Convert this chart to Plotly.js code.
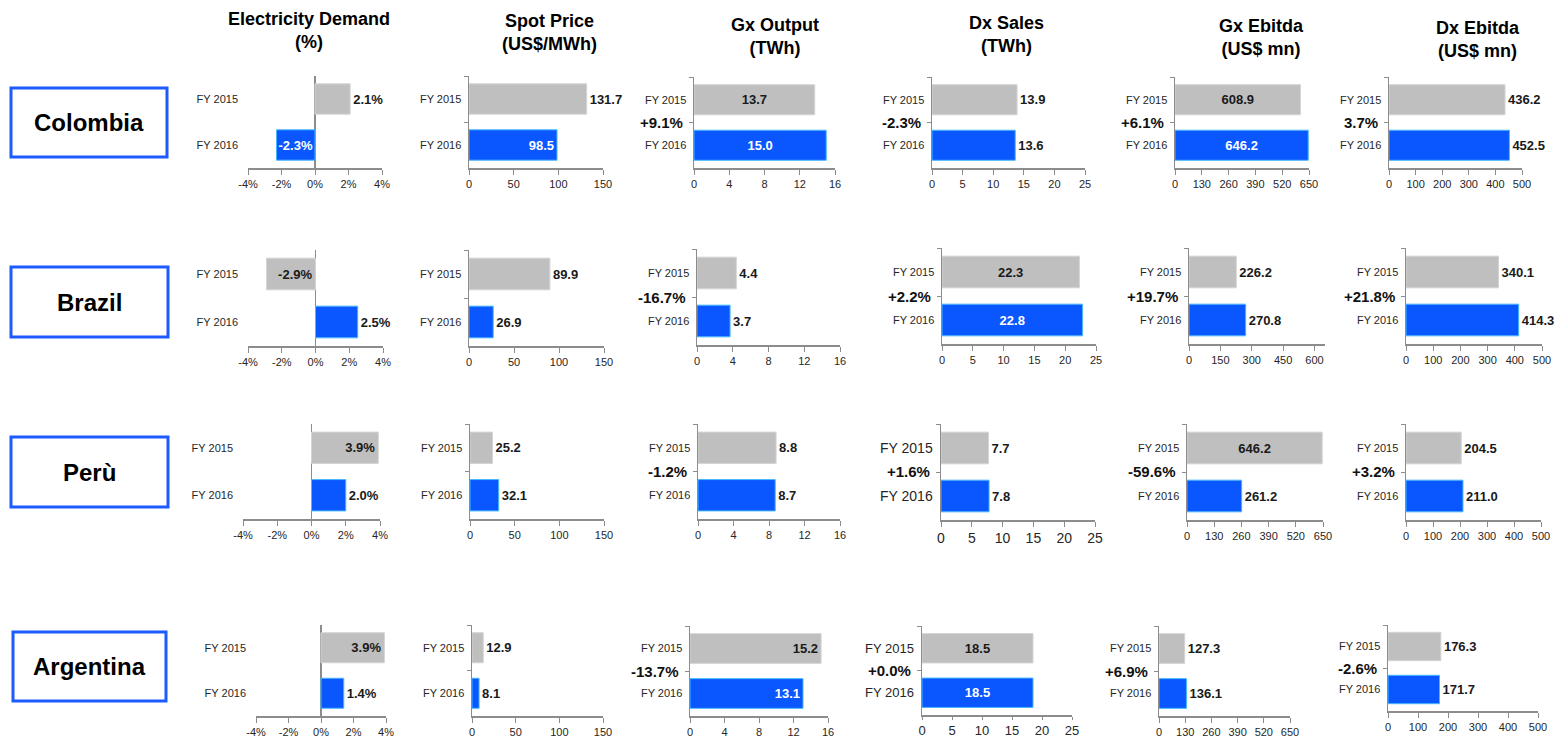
<!DOCTYPE html>
<html><head><meta charset="utf-8">
<script src="https://cdn.plot.ly/plotly-3.0.1.min.js"></script>
<style>html,body{margin:0;padding:0;background:#fff;}#chart{width:1560px;height:739px;}</style>
</head><body><div id="chart"></div>
<script>
// ---------- data ----------
const countries = ['Colombia', 'Brazil', 'Perù', 'Argentina'];
const metricTitles = ['Electricity Demand<br>(%)', 'Spot Price<br>(US$/MWh)', 'Gx Output<br>(TWh)', 'Dx Sales<br>(TWh)', 'Gx Ebitda<br>(US$ mn)', 'Dx Ebitda<br>(US$ mn)'];
const years = ['FY 2015', 'FY 2016'];

const demand2015 = [2.1, -2.9, 3.9, 3.9];
const demand2016 = [-2.3, 2.5, 2.0, 1.4];
const spot2015 = [131.7, 89.9, 25.2, 12.9];
const spot2016 = [98.5, 26.9, 32.1, 8.1];
const gxOutput2015 = [13.7, 4.4, 8.8, 15.2];
const gxOutput2016 = [15.0, 3.7, 8.7, 13.1];
const dxSales2015 = [13.9, 22.3, 7.7, 18.5];
const dxSales2016 = [13.6, 22.8, 7.8, 18.5];
const gxEbitda2015 = [608.9, 226.2, 646.2, 127.3];
const gxEbitda2016 = [646.2, 270.8, 261.2, 136.1];
const dxEbitda2015 = [436.2, 340.1, 204.5, 176.3];
const dxEbitda2016 = [452.5, 414.3, 211.0, 171.7];

const gxOutputChange = ['+9.1%', '-16.7%', '-1.2%', '-13.7%'];
const dxSalesChange = ['-2.3%', '+2.2%', '+1.6%', '+0.0%'];
const gxEbitdaChange = ['+6.1%', '+19.7%', '-59.6%', '+6.9%'];
const dxEbitdaChange = ['3.7%', '+21.8%', '+3.2%', '-2.6%'];

const demandTicks = [-4, -2, 0, 2, 4];
const demandTickLabels = ['-4%', '-2%', '0%', '2%', '4%'];
const spotTicks = [0, 50, 100, 150];
const gxOutputTicks = [0, 4, 8, 12, 16];
const dxSalesTicks = [0, 5, 10, 15, 20, 25];
const gxEbitdaTicks = [0, 130, 260, 390, 520, 650];
const gxEbitdaTicksBrazil = [0, 150, 300, 450, 600];
const dxEbitdaTicks = [0, 100, 200, 300, 400, 500];

// ---------- metric options built from the arrays ----------
const metrics = [
  {v15: demand2015, v16: demand2016, change: null, range: [-4, 4], ticks: () => demandTicks, labels: () => demandTickLabels, fmt: v => v.toFixed(1) + '%'},
  {v15: spot2015, v16: spot2016, change: null, range: [0, 150], ticks: () => spotTicks, fmt: v => v.toFixed(1)},
  {v15: gxOutput2015, v16: gxOutput2016, change: gxOutputChange, range: [0, 16], ticks: () => gxOutputTicks, fmt: v => v.toFixed(1)},
  {v15: dxSales2015, v16: dxSales2016, change: dxSalesChange, range: [0, 25], ticks: () => dxSalesTicks, fmt: v => v.toFixed(1)},
  {v15: gxEbitda2015, v16: gxEbitda2016, change: gxEbitdaChange, range: [0, 650], ticks: r => (r === 1 ? gxEbitdaTicksBrazil : gxEbitdaTicks), fmt: v => v.toFixed(1)},
  {v15: dxEbitda2015, v16: dxEbitda2016, change: dxEbitdaChange, range: [0, 500], ticks: () => dxEbitdaTicks, fmt: v => v.toFixed(1)}
];

// ---------- layout geometry (pixels) ----------
const W = 1560, H = 739;
const cells = [
  [[248,382,76,168],[469,603,76,168],[694,835,77,168],[932,1085,77,168],[1175,1309,77,168],[1389,1522,77,168]],
  [[248,383,250,346],[469,604,250,346],[697,840,249,345],[942,1096,248,344],[1189,1325,248,344],[1406,1542,248,344]],
  [[243,380,424,519],[470,604,424,519],[698,840,424,519],[941,1095,424,520],[1187,1323,424,520],[1406,1541,424,520]],
  [[256,386,625,716],[472,603,625,716],[690,828,626,716],[922,1072,626,715],[1159,1290,626,716],[1388,1538,625,711]]
];
const textPos = [
  [['outside','inside'],['outside','inside'],['inside','inside'],['outside','outside'],['inside','inside'],['outside','outside']],
  [['inside','outside'],['outside','outside'],['outside','outside'],['inside','inside'],['outside','outside'],['outside','outside']],
  [['inside','outside'],['outside','outside'],['outside','outside'],['outside','outside'],['inside','outside'],['outside','outside']],
  [['inside','outside'],['outside','outside'],['inside','inside'],['inside','inside'],['outside','outside'],['outside','outside']]
];
const anchors = [
  ['middle','end','middle','middle','middle','middle'],
  ['start','middle','middle','middle','middle','middle'],
  ['end','middle','middle','middle','middle','middle'],
  ['end','middle','end','middle','middle','middle']
];
const titleX = [309, 549, 775, 1006, 1261, 1478];
const titleTop = [7, 9, 13, 11, 14, 16];
const boxes = [[11,167,88,157],[11,168,267,337],[11,168,437,507],[13,166,632,701]];

const FONT = 'Liberation Sans, Arial, sans-serif';
const GRAY = '#bfbfbf', BLUE = '#0a56ff';
const AXIS = '#8c8c8c', TXT = '#262626';

const traces = [];
const layout = {
  width: W, height: H,
  margin: {l: 0, r: 0, t: 0, b: 0},
  paper_bgcolor: '#ffffff', plot_bgcolor: 'rgba(0,0,0,0)',
  showlegend: false, bargap: 0.34,
  font: {family: FONT, color: TXT},
  annotations: [], shapes: []
};

for (let r = 0; r < 4; r++) {
  for (let c = 0; c < 6; c++) {
    const k = r * 6 + c + 1;
    const sfx = k === 1 ? '' : String(k);
    const m = metrics[c];
    const [x0, x1, y0, y1] = cells[r][c];
    const vals = [m.v15[r], m.v16[r]];
    const pos = textPos[r][c];
    const big = (c === 3 && r >= 2);
    traces.push({
      type: 'bar', orientation: 'h',
      y: years, x: vals,
      xaxis: 'x' + sfx, yaxis: 'y' + sfx,
      marker: {color: [GRAY, BLUE], line: {color: ['#d4d4d4', '#45b8ff'], width: 1}},
      text: vals.map(m.fmt),
      textposition: pos,
      insidetextanchor: anchors[r][c],
      textangle: 0, constraintext: 'none', cliponaxis: false,
      textfont: {family: FONT, size: 13, weight: 'bold',
        color: pos.map((p, i) => (p === 'inside' && i === 1) ? '#ffffff' : '#1a1a1a')},
      hoverinfo: 'skip'
    });
    const tv = m.ticks(r);
    layout['xaxis' + sfx] = {
      domain: [x0 / W, x1 / W], anchor: 'y' + sfx,
      range: m.range, fixedrange: true,
      tickmode: 'array', tickvals: tv, ticktext: m.labels ? m.labels() : tv.map(String),
      ticks: 'outside', ticklen: (big && r === 3) ? 3 : 5, tickwidth: 1, tickcolor: AXIS,
      showline: true, linecolor: AXIS, linewidth: 1.5,
      showgrid: false,
      zeroline: c === 0, zerolinecolor: AXIS, zerolinewidth: 1.5,
      tickfont: {family: FONT, size: big ? (r === 3 ? 13 : 14) : 11, color: TXT}
    };
    layout['yaxis' + sfx] = {
      domain: [1 - y1 / H, 1 - y0 / H], anchor: 'x' + sfx,
      type: 'category', autorange: 'reversed', fixedrange: true,
      showline: c !== 0, linecolor: AXIS, linewidth: 1.5,
      ticks: c === 0 ? '' : 'outside', tickson: 'boundaries', ticklen: 4, tickcolor: AXIS,
      showgrid: false, zeroline: false,
      ticklabelstandoff: c === 0 ? 9 : 4,
      tickfont: {family: FONT, size: big ? (r === 3 ? 13 : 14) : 11, color: TXT}
    };
    if (m.change) {
      layout.annotations.push({
        xref: 'x' + sfx + ' domain', yref: 'y' + sfx + ' domain',
        x: 0, y: 0.5, xanchor: 'right', yanchor: 'middle', xshift: -9,
        text: '<b>' + m.change[r] + '</b>', showarrow: false,
        font: {family: FONT, size: 15, color: '#111111'}
      });
    }
  }
}

// column titles
metricTitles.forEach((t, c) => {
  layout.annotations.push({
    xref: 'paper', yref: 'paper', x: titleX[c] / W, y: 1 - titleTop[c] / H,
    xanchor: 'center', yanchor: 'top', align: 'center',
    text: '<b>' + t.split('<br>').join('</b><br><b>') + '</b>', showarrow: false,
    font: {family: FONT, size: 18, color: '#000000'}
  });
});

// country boxes + labels
countries.forEach((name, r) => {
  const [bx0, bx1, by0, by1] = boxes[r];
  layout.shapes.push({
    type: 'rect', xref: 'paper', yref: 'paper',
    x0: bx0 / W, x1: bx1 / W, y0: 1 - by1 / H, y1: 1 - by0 / H,
    line: {color: '#1e5bff', width: 3}, fillcolor: '#ffffff', layer: 'below'
  });
  layout.annotations.push({
    xref: 'paper', yref: 'paper', x: ((bx0 + bx1) / 2) / W, y: 1 - ((by0 + by1) / 2) / H,
    xanchor: 'center', yanchor: 'middle', text: '<b>' + name + '</b>', showarrow: false,
    font: {family: FONT, size: 24, color: '#000000'}
  });
});

Plotly.newPlot('chart', traces, layout, {staticPlot: true, displayModeBar: false});
</script>
</body></html>
